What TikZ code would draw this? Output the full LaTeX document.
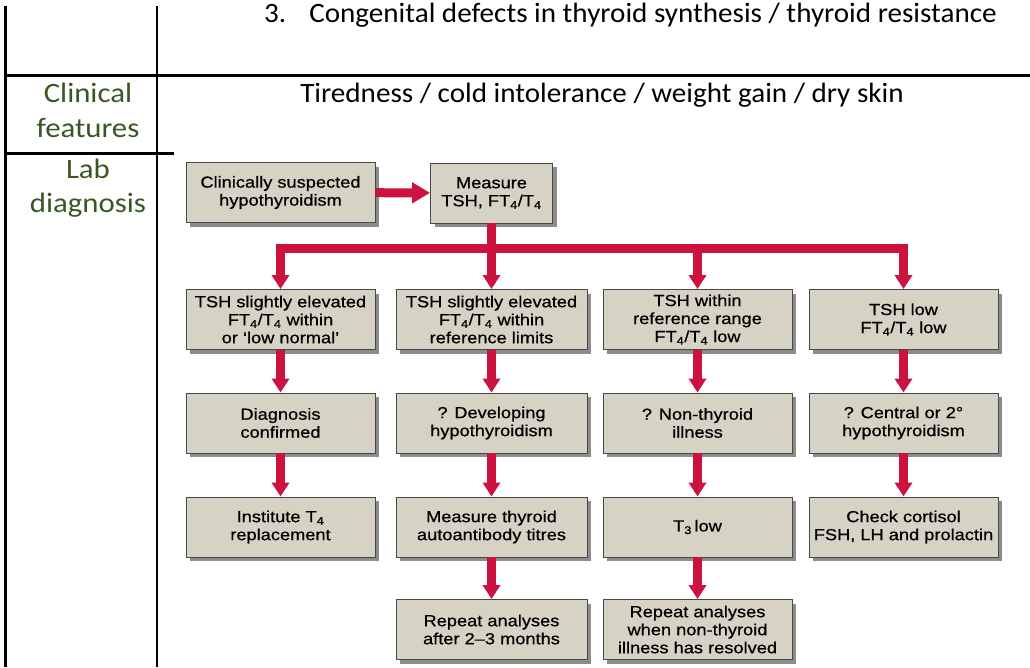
\documentclass[tikz,border=0pt]{standalone}
\usepackage{fontspec}
\setmainfont{Carlito}
\newfontfamily\cellfont[FakeStretch=1.04]{Carlito}
\newfontfamily\labelfont[FakeStretch=1.1]{Carlito}
\newfontfamily\boxfont[FakeStretch=1.14,FakeBold=0.6]{Liberation Sans}
\usetikzlibrary{arrows.meta,shadows}

\definecolor{labelgreen}{RGB}{56,87,35}
\definecolor{boxfill}{RGB}{214,210,196}
\definecolor{boxedge}{RGB}{72,72,72}
\definecolor{flowred}{RGB}{204,18,62}
\definecolor{shadowgray}{RGB}{140,140,140}

\tikzset{
  rule/.style={line width=2.6pt, black},
  celltext/.style={font=\cellfont\fontsize{28}{35}\selectfont, inner sep=0pt, anchor=base},
  headtext/.style={font=\labelfont\fontsize{28}{35}\selectfont, inner sep=0pt,
    anchor=base, text=labelgreen},
  stepbox/.style={draw=boxedge, fill=boxfill, line width=0.9pt, inner sep=0pt,
    minimum width=189pt, minimum height=60pt, align=center,
    font=\boxfont\fontsize{16}{18}\selectfont,
    drop shadow={shadow xshift=4pt, shadow yshift=-4pt, fill=shadowgray, opacity=1}},
  flow/.style={draw=flowred, line width=9pt, line join=miter,
    -{Triangle[width=17pt,length=14pt]}},
  sideflow/.style={flow, -{Triangle[width=20pt,length=18pt]}}
}

\newcommand{\ftt}{FT\textsubscript{4}/T\textsubscript{4}}

\begin{document}
\begin{tikzpicture}[x=1pt,y=-1pt]
\useasboundingbox[fill=white] (0,0) rectangle (1030,667);

% table rules
\draw[rule] (5.5,6) -- (5.5,667);
\draw[rule] (157,6) -- (157,667);
\draw[rule] (4.2,75.5) -- (1030,75.5);
\draw[rule] (4.2,153.5) -- (174,153.5);

% table text
\node[celltext, anchor=base west] (cause) at (264,22) {3.\hspace{23pt}Congenital defects in thyroid synthesis / thyroid resistance};
\node[headtext] (clin1) at (88,102) {Clinical};
\node[headtext] (clin2) at (88,137) {features};
\node[headtext] (lab1) at (88,178) {Lab};
\node[headtext] (lab2) at (88,212) {diagnosis};
\node[celltext] (symptoms) at (602,102) {Tiredness / cold intolerance / weight gain / dry skin};

% flow chart boxes
\node[stepbox] (start) at (280.5,192.5) {Clinically suspected\\hypothyroidism};
\node[stepbox, minimum width=122pt] (measure) at (491.5,193) {Measure\\TSH, \ftt};

\node[stepbox] (r1a) at (280.5,319.5) {TSH slightly elevated\\\ftt{} within\\or ‘low normal’};
\node[stepbox, minimum width=191pt] (r1b) at (491.5,319.5) {TSH slightly elevated\\\ftt{} within\\reference limits};
\node[stepbox] (r1c) at (697.5,319.5) {TSH within\\reference range\\\ftt{} low};
\node[stepbox] (r1d) at (903.5,319.5) {TSH low\\\ftt{} low};

\node[stepbox] (r2a) at (280.5,423) {Diagnosis\\confirmed};
\node[stepbox, minimum width=191pt] (r2b) at (491.5,423) {? Developing\\hypothyroidism};
\node[stepbox] (r2c) at (697.5,423) {? Non-thyroid\\illness};
\node[stepbox] (r2d) at (903.5,423) {? Central or 2°\\hypothyroidism};

\node[stepbox] (r3a) at (280.5,527) {Institute T\textsubscript{4}\\replacement};
\node[stepbox, minimum width=191pt] (r3b) at (491.5,527) {Measure thyroid\\autoantibody titres};
\node[stepbox] (r3c) at (697.5,527) {T\textsubscript{3}\,low};
\node[stepbox] (r3d) at (903.5,527) {Check cortisol\\FSH, LH and prolactin};

\node[stepbox, minimum width=191pt] (r4b) at (491.5,629.5) {Repeat analyses\\after 2–3 months};
\node[stepbox] (r4c) at (697.5,629.5) {Repeat analyses\\when non-thyroid\\illness has resolved};

% connectors
\coordinate (bar) at (491.5,248);
\draw[sideflow] (start) -- (measure);
\draw[flow] (measure.south) -- (bar) -| (r1a.north);
\draw[flow] (measure.south) -- (r1b.north);
\draw[flow] (measure.south) -- (bar) -| (r1c.north);
\draw[flow] (measure.south) -- (bar) -| (r1d.north);

\draw[flow] (r1a) -- (r2a);
\draw[flow] (r2a) -- (r3a);
\draw[flow] (r1b) -- (r2b);
\draw[flow] (r2b) -- (r3b);
\draw[flow] (r3b) -- (r4b);
\draw[flow] (r1c) -- (r2c);
\draw[flow] (r2c) -- (r3c);
\draw[flow] (r3c) -- (r4c);
\draw[flow] (r1d) -- (r2d);
\draw[flow] (r2d) -- (r3d);
\end{tikzpicture}
\end{document}
